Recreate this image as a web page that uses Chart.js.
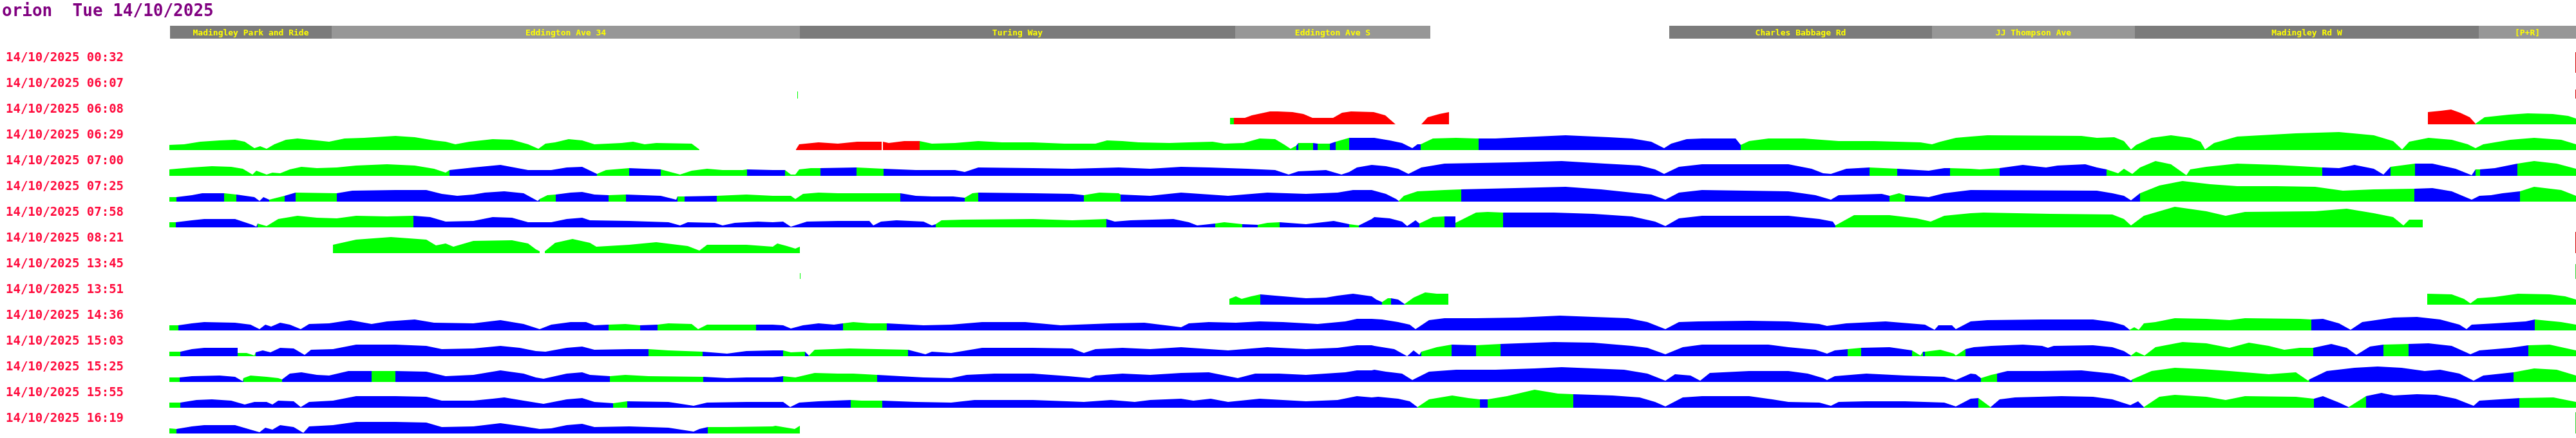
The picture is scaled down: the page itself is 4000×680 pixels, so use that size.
<!DOCTYPE html>
<html>
<head>
<meta charset="utf-8">
<title>orion Tue 14/10/2025</title>
<script src="https://cdn.jsdelivr.net/npm/chart.js@4.4.1/dist/chart.umd.min.js"></script>
<style>
  html, body { margin: 0; padding: 0; background: #ffffff; }
  canvas { display: block; }
</style>
</head>
<body>
<canvas id="runs" width="4000" height="680" style="width:4000px;height:680px"></canvas>
<script>
const pageTitle = 'orion  Tue 14/10/2025';

// timing points along the route
const stopNames = ['Madingley Park and Ride', 'Eddington Ave 34', 'Turing Way', 'Eddington Ave S',
  'Charles Babbage Rd', 'JJ Thompson Ave', 'Madingley Rd W', '[P+R]'];
const stopFrom = [264, 515, 1242, 1918, 2592, 3000, 3315, 3849];
const stopTo = [515, 1242, 1918, 2221, 3000, 3315, 3849, 4000];

const runLabels = ['14/10/2025 00:32', '14/10/2025 06:07', '14/10/2025 06:08', '14/10/2025 06:29',
  '14/10/2025 07:00', '14/10/2025 07:25', '14/10/2025 07:58', '14/10/2025 08:21',
  '14/10/2025 13:45', '14/10/2025 13:51', '14/10/2025 14:36', '14/10/2025 15:03',
  '14/10/2025 15:25', '14/10/2025 15:55', '14/10/2025 16:19'];

// each point: [distance, speed, band of the stretch that starts here]
const run0032 = [[3999,32,'R'],[4000,32,null]];

const run0607 = [[1238,11,'g'],[1239,11,null],[3999,14,'R'],[4000,14,null]];

const run0608 = [[1910,10,'g'],[1916,10,'r'],[1933,10,'r'],[1944,14,'r'],[1972,20,'r'],[1984,20,'r'],[2007,19,'r'],
  [2024,16,'r'],[2038,10,'r'],[2070,10,'r'],[2084,18,'r'],[2098,20,'r'],[2133,19,'r'],[2151,14,'r'],[2167,0,null],
  [2207,0,'r'],[2217,11,'r'],[2235,16,'r'],[2250,19,null],
  [3770,19,'r'],[3790,21,'r'],[3806,23,'r'],[3820,18,'r'],[3835,11,'r'],[3844,1,'g'],[3858,11,'g'],[3877,13,'g'],
  [3896,15,'g'],[3925,17,'g'],[3964,16,'g'],[3988,13,'g'],[4000,9,null]];

const run0629 = [[263,8,'g'],[286,9,'g'],[311,13,'g'],[341,15,'g'],[365,16,'g'],[380,13,'g'],[395,3,'g'],[404,6,'g'],
  [414,2,'g'],[426,9,'g'],[444,16,'g'],[462,18,'g'],[492,15,'g'],[511,13,'g'],[535,18,'g'],[565,19,'g'],[614,22,'g'],
  [644,20,'g'],[674,15,'g'],[692,13,'g'],[707,9,'g'],[729,13,'g'],[765,17,'g'],[795,16,'g'],[820,9,'g'],[836,2,'g'],
  [847,10,'g'],[862,12,'g'],[883,17,'g'],[904,15,'g'],[923,9,'g'],[965,11,'g'],[983,13,'g'],[1001,9,'g'],[1019,11,'g'],
  [1074,10,'g'],[1086,1,null],
  [1236,1,'r'],[1241,9,'r'],[1271,12,'r'],[1301,10,'r'],[1331,13,'r'],[1369,13,null],[1371,13,'r'],[1380,11,'r'],
  [1404,14,'r'],[1428,14,'g'],[1447,10,'g'],[1483,11,'g'],[1519,14,'g'],[1556,12,'g'],[1604,12,'g'],[1653,10,'g'],
  [1701,10,'g'],[1719,15,'g'],[1743,14,'g'],[1768,12,'g'],[1816,11,'g'],[1846,12,'g'],[1883,13,'g'],[1901,10,'g'],
  [1931,11,'g'],[1956,18,'g'],[1980,17,'g'],[1995,8,'g'],[2004,2,'g'],[2013,7,'b'],[2016,11,'g'],[2039,11,'b'],
  [2046,10,'g'],[2065,10,'b'],[2074,13,'g'],[2095,19,'b'],[2134,19,'b'],[2158,15,'b'],[2177,11,'b'],[2193,3,'b'],
  [2201,9,'b'],[2206,9,'g'],[2225,18,'g'],[2261,19,'g'],[2292,18,'g'],[2296,18,'b'],[2322,18,'b'],[2364,20,'b'],
  [2431,23,'b'],[2498,20,'b'],[2534,18,'b'],[2564,13,'b'],[2584,3,'b'],[2595,10,'b'],[2619,17,'b'],[2643,18,'b'],
  [2695,18,'b'],[2703,8,'g'],[2716,14,'g'],[2746,18,'g'],[2801,18,'g'],[2855,14,'g'],[2910,14,'g'],[2982,12,'g'],
  [3000,9,'g'],[3013,13,'g'],[3037,19,'g'],[3060,21,'g'],[3086,23,'g'],[3232,22,'g'],[3256,19,'g'],[3283,20,'g'],
  [3298,14,'g'],[3309,1,'g'],[3317,8,'g'],[3341,19,'g'],[3371,23,'g'],[3401,19,'g'],[3417,13,'g'],[3424,1,'g'],
  [3438,11,'g'],[3474,21,'g'],[3565,26,'g'],[3632,28,'g'],[3686,23,'g'],[3716,14,'g'],[3730,1,'g'],[3741,13,'g'],
  [3771,19,'g'],[3807,16,'g'],[3832,9,'g'],[3844,3,'g'],[3856,9,'g'],[3898,16,'g'],[3935,19,'g'],[3977,16,'g'],
  [4000,9,null]];

const run0700 = [[263,10,'g'],[274,11,'g'],[298,13,'g'],[329,15,'g'],[359,14,'g'],[377,11,'g'],[392,2,'g'],[398,8,'g'],
  [414,2,'g'],[423,5,'g'],[435,4,'g'],[450,10,'g'],[468,14,'g'],[492,12,'g'],[523,13,'g'],[553,16,'g'],[601,18,'g'],
  [644,16,'g'],[674,11,'g'],[692,5,'g'],[698,9,'b'],[735,13,'b'],[777,17,'b'],[820,9,'b'],[856,9,'b'],[880,13,'b'],
  [904,14,'b'],[927,3,'g'],[941,9,'g'],[977,12,'b'],[1026,10,'g'],[1056,2,'g'],[1065,5,'g'],[1074,8,'g'],[1098,11,'g'],
  [1122,9,'g'],[1153,9,'g'],[1160,10,'b'],[1200,9,'b'],[1219,9,'g'],[1228,2,'g'],[1235,2,'g'],[1241,10,'g'],
  [1259,12,'g'],[1274,12,'b'],[1330,13,'g'],[1372,11,'b'],[1422,9,'b'],[1483,9,'b'],[1498,6,'b'],[1519,13,'b'],
  [1604,12,'b'],[1665,11,'b'],[1737,13,'b'],[1786,11,'b'],[1834,14,'b'],[1877,13,'b'],[1937,11,'b'],[1980,9,'b'],
  [2001,2,'b'],[2016,7,'b'],[2059,9,'b'],[2083,2,'b'],[2095,6,'b'],[2107,13,'b'],[2130,17,'b'],[2152,15,'b'],
  [2171,11,'b'],[2187,3,'b'],[2207,13,'b'],[2243,19,'b'],[2352,21,'b'],[2425,23,'b'],[2492,19,'b'],[2546,16,'b'],
  [2570,10,'b'],[2584,3,'b'],[2607,14,'b'],[2643,18,'b'],[2777,18,'b'],[2813,11,'b'],[2831,4,'b'],[2843,3,'b'],
  [2867,11,'b'],[2903,13,'g'],[2946,11,'b'],[2995,8,'b'],[3019,12,'b'],[3028,12,'g'],[3060,11,'g'],[3074,10,'g'],
  [3105,12,'b'],[3141,17,'b'],[3177,13,'b'],[3195,16,'b'],[3238,18,'b'],[3256,13,'b'],[3271,10,'g'],[3289,4,'g'],
  [3298,11,'g'],[3311,3,'g'],[3323,13,'g'],[3347,23,'g'],[3371,18,'g'],[3395,1,'g'],[3401,10,'g'],[3426,14,'g'],
  [3474,19,'g'],[3535,17,'g'],[3606,13,'b'],[3632,12,'b'],[3656,17,'b'],[3686,11,'b'],[3701,2,'b'],[3712,14,'g'],
  [3750,19,'b'],[3777,19,'b'],[3813,11,'b'],[3838,1,'b'],[3844,10,'g'],[3851,10,'b'],[3874,12,'b'],[3909,19,'g'],
  [3935,23,'g'],[3970,19,'g'],[4000,11,null]];

const run0725 = [[263,7,'g'],[274,7,'b'],[298,10,'b'],[314,13,'b'],[348,13,'g'],[367,11,'b'],[395,7,'b'],[403,1,'b'],
  [409,7,'b'],[418,3,'g'],[442,9,'b'],[459,14,'g'],[523,13,'b'],[547,17,'b'],[614,18,'b'],[662,18,'b'],[686,12,'b'],
  [710,9,'b'],[735,11,'b'],[753,14,'b'],[783,16,'b'],[813,13,'b'],[835,1,'b'],[838,4,'g'],[850,10,'g'],[863,11,'b'],
  [886,14,'b'],[904,15,'b'],[923,11,'b'],[945,10,'g'],[972,11,'b'],[1026,9,'b'],[1050,3,'b'],[1052,8,'g'],
  [1063,8,'b'],[1113,9,'g'],[1159,11,'g'],[1200,9,'g'],[1228,9,'g'],[1235,4,'g'],[1247,12,'g'],[1271,14,'g'],
  [1301,13,'g'],[1331,13,'g'],[1362,13,'g'],[1398,13,'b'],[1422,9,'b'],[1447,8,'b'],[1480,8,'b'],[1489,7,'b'],
  [1498,6,'g'],[1510,13,'g'],[1519,14,'b'],[1604,13,'b'],[1665,12,'b'],[1683,10,'g'],[1707,14,'g'],[1737,13,'g'],
  [1740,11,'b'],[1786,9,'b'],[1834,14,'b'],[1907,9,'b'],[1968,14,'b'],[2028,12,'b'],[2077,14,'b'],[2101,18,'b'],
  [2130,18,'b'],[2152,12,'b'],[2168,4,'b'],[2172,1,'g'],[2180,9,'g'],[2201,16,'g'],[2243,18,'g'],[2269,19,'b'],
  [2352,21,'b'],[2431,23,'b'],[2486,19,'b'],[2534,14,'b'],[2564,11,'b'],[2586,3,'b'],[2607,14,'b'],[2643,18,'b'],
  [2777,16,'b'],[2819,10,'b'],[2843,3,'b'],[2855,10,'b'],[2922,12,'b'],[2934,9,'g'],[2949,13,'g'],[2958,10,'b'],
  [2995,7,'b'],[3019,13,'b'],[3060,18,'b'],[3256,17,'b'],[3280,13,'b'],[3298,9,'b'],[3309,2,'b'],[3323,13,'g'],
  [3353,25,'g'],[3389,32,'g'],[3432,27,'g'],[3474,24,'g'],[3535,24,'g'],[3595,23,'g'],[3638,17,'g'],[3686,19,'g'],
  [3749,20,'b'],[3777,21,'b'],[3807,16,'b'],[3838,3,'b'],[3850,9,'b'],[3868,10,'b'],[3886,13,'b'],[3913,16,'g'],
  [3935,23,'g'],[3977,18,'g'],[4000,9,null]];

const run0758 = [[263,8,'g'],[273,8,'b'],[298,11,'b'],[317,13,'b'],[365,13,'b'],[377,9,'b'],[392,4,'b'],[398,1,'b'],
  [400,6,'g'],[414,2,'g'],[432,13,'g'],[462,18,'g'],[492,15,'g'],[523,14,'g'],[553,18,'g'],[601,17,'g'],[642,18,'b'],
  [668,16,'b'],[692,9,'b'],[735,10,'b'],[765,16,'b'],[795,15,'b'],[820,8,'b'],[856,8,'b'],[880,13,'b'],[904,15,'b'],
  [916,11,'b'],[977,10,'b'],[1038,8,'b'],[1056,3,'b'],[1068,8,'b'],[1110,7,'b'],[1122,3,'b'],[1141,7,'b'],
  [1177,9,'b'],[1200,8,'b'],[1216,9,'b'],[1228,1,'b'],[1253,9,'b'],[1301,10,'b'],[1350,10,'b'],[1356,3,'b'],
  [1368,9,'b'],[1392,11,'b'],[1434,9,'b'],[1447,3,'b'],[1453,5,'g'],[1462,11,'g'],[1495,12,'g'],[1604,13,'g'],
  [1665,11,'g'],[1718,13,'b'],[1731,9,'b'],[1756,11,'b'],[1822,13,'b'],[1846,8,'b'],[1859,3,'b'],[1887,6,'g'],
  [1901,8,'g'],[1929,5,'b'],[1953,4,'g'],[1968,7,'g'],[1987,8,'b'],[2028,5,'b'],[2071,10,'b'],[2095,5,'g'],
  [2110,3,'b'],[2130,13,'b'],[2134,16,'b'],[2158,14,'b'],[2177,9,'b'],[2185,2,'b'],[2198,11,'b'],[2204,6,'g'],
  [2225,16,'g'],[2243,17,'b'],[2260,17,'g'],[2260,7,'g'],[2292,23,'g'],[2310,24,'g'],[2334,23,'b'],[2413,23,'b'],
  [2474,21,'b'],[2534,17,'b'],[2570,9,'b'],[2586,2,'b'],[2607,14,'b'],[2643,18,'b'],[2777,18,'b'],[2825,13,'b'],
  [2846,9,'b'],[2850,3,'g'],[2879,19,'g'],[2934,19,'g'],[2976,14,'g'],[2998,9,'g'],[3019,18,'g'],[3060,22,'g'],
  [3080,23,'g'],[3183,21,'g'],[3280,20,'g'],[3298,13,'g'],[3309,3,'g'],[3329,18,'g'],[3377,32,'g'],[3426,25,'g'],
  [3456,18,'g'],[3486,24,'g'],[3595,25,'g'],[3644,29,'g'],[3686,22,'g'],[3716,16,'g'],[3732,3,'g'],[3741,12,'g'],
  [3762,12,null]];

const run0821 = [[517,13,'g'],[553,21,'g'],[607,25,'g'],[662,21,'g'],[677,12,'g'],[692,15,'g'],[704,10,'g'],
  [735,19,'g'],[795,20,'g'],[820,15,'g'],[832,6,'g'],[838,3,null],[846,3,'g'],[862,16,'g'],[889,22,'g'],[916,16,'g'],
  [926,10,'g'],[977,13,'g'],[1019,17,'g'],[1068,11,'g'],[1086,4,'g'],[1098,13,'g'],[1159,13,'g'],[1200,10,'g'],
  [1207,15,'g'],[1222,11,'g'],[1235,7,'g'],[1242,10,null],[3999,33,'R'],[4000,33,null]];

const run1345 = [[1242,9,'g'],[1243,9,null],[3999,23,'G'],[4000,23,null]];

const run1351 = [[1909,9,'g'],[1919,13,'g'],[1928,9,'g'],[1943,13,'g'],[1957,16,'b'],[1980,14,'b'],[2028,10,'b'],
  [2059,11,'b'],[2077,14,'b'],[2101,17,'b'],[2130,13,'b'],[2137,8,'b'],[2146,4,'g'],[2155,10,'g'],[2160,10,'b'],
  [2171,8,'b'],[2181,1,'g'],[2195,11,'g'],[2213,19,'g'],[2231,17,'g'],[2249,17,null],
  [3769,17,'g'],[3807,16,'g'],[3826,9,'g'],[3836,2,'g'],[3847,10,'g'],[3874,12,'g'],[3910,17,'g'],[3959,16,'g'],
  [3983,13,'g'],[4000,8,null]];

const run1436 = [[263,8,'g'],[277,8,'b'],[298,11,'b'],[317,13,'b'],[365,12,'b'],[389,9,'b'],[403,2,'b'],[412,9,'b'],
  [421,6,'b'],[435,12,'b'],[450,9,'b'],[467,2,'b'],[480,10,'b'],[511,11,'b'],[544,16,'b'],[577,10,'b'],[601,14,'b'],
  [644,17,'b'],[674,12,'b'],[735,11,'b'],[777,16,'b'],[813,10,'b'],[838,2,'b'],[856,9,'b'],[886,13,'b'],[910,13,'b'],
  [923,8,'b'],[945,9,'g'],[971,10,'g'],[994,8,'b'],[1021,9,'g'],[1038,11,'g'],[1074,10,'g'],[1084,2,'g'],[1098,9,'g'],
  [1147,9,'g'],[1174,9,'b'],[1200,9,'b'],[1216,8,'b'],[1228,3,'b'],[1247,8,'b'],[1271,11,'b'],[1295,9,'b'],
  [1309,11,'g'],[1325,13,'g'],[1350,11,'g'],[1377,11,'b'],[1434,8,'b'],[1477,9,'b'],[1525,13,'b'],[1592,13,'b'],
  [1647,8,'b'],[1725,11,'b'],[1777,12,'b'],[1834,5,'b'],[1846,11,'b'],[1877,13,'b'],[1919,12,'b'],[1956,14,'b'],
  [1992,13,'b'],[2046,10,'b'],[2089,14,'b'],[2107,18,'b'],[2130,18,'b'],[2146,17,'b'],[2171,13,'b'],[2189,9,'b'],
  [2198,2,'b'],[2219,16,'b'],[2243,19,'b'],[2292,19,'b'],[2358,20,'b'],[2422,23,'b'],[2474,21,'b'],[2528,19,'b'],
  [2558,13,'b'],[2586,2,'b'],[2607,13,'b'],[2637,14,'b'],[2716,15,'b'],[2777,14,'b'],[2825,10,'b'],[2837,7,'b'],
  [2867,11,'b'],[2928,14,'b'],[2989,9,'b'],[3004,1,'b'],[3010,8,'b'],[3031,8,'b'],[3037,2,'b'],[3060,14,'b'],
  [3086,16,'b'],[3171,17,'b'],[3250,17,'b'],[3280,13,'b'],[3298,8,'b'],[3307,1,'g'],[3314,5,'g'],[3321,1,'g'],
  [3329,11,'g'],[3347,13,'g'],[3377,19,'g'],[3426,18,'g'],[3462,16,'g'],[3486,19,'g'],[3571,18,'g'],[3589,17,'b'],
  [3607,18,'b'],[3632,11,'b'],[3650,1,'b'],[3668,13,'b'],[3717,20,'b'],[3753,21,'b'],[3789,17,'b'],[3819,9,'b'],
  [3830,2,'b'],[3838,9,'b'],[3874,11,'b'],[3922,14,'b'],[3936,17,'g'],[3977,13,'g'],[4000,9,null]];

const run1503 = [[263,7,'g'],[280,7,'b'],[298,11,'b'],[317,13,'b'],[347,13,'b'],[369,13,'g'],[369,5,'g'],[383,5,'g'],
  [395,1,'g'],[397,6,'b'],[408,9,'b'],[420,6,'b'],[435,13,'b'],[456,12,'b'],[473,2,'b'],[483,10,'b'],[517,11,'b'],
  [553,18,'b'],[614,18,'b'],[662,16,'b'],[686,11,'b'],[735,12,'b'],[777,16,'b'],[807,13,'b'],[832,8,'b'],[847,7,'b'],
  [880,13,'b'],[904,15,'b'],[923,10,'b'],[977,11,'b'],[1007,11,'g'],[1038,9,'g'],[1091,7,'b'],[1129,4,'b'],
  [1159,8,'b'],[1200,9,'b'],[1216,9,'g'],[1228,6,'g'],[1250,7,'b'],[1256,1,'g'],[1265,10,'g'],[1319,12,'g'],
  [1362,11,'g'],[1410,10,'b'],[1437,3,'b'],[1447,7,'b'],[1477,5,'b'],[1525,13,'b'],[1604,13,'b'],[1665,12,'b'],
  [1683,5,'b'],[1701,11,'b'],[1743,13,'b'],[1786,11,'b'],[1834,14,'b'],[1907,9,'b'],[1968,14,'b'],[2028,11,'b'],
  [2077,13,'b'],[2107,17,'b'],[2130,17,'b'],[2134,16,'b'],[2165,11,'b'],[2185,0,'b'],[2195,9,'b'],[2204,2,'b'],
  [2207,7,'g'],[2231,14,'g'],[2254,18,'b'],[2292,17,'g'],[2330,19,'b'],[2413,22,'b'],[2474,21,'b'],[2534,16,'b'],
  [2558,13,'b'],[2586,3,'b'],[2613,14,'b'],[2643,18,'b'],[2746,18,'b'],[2777,14,'b'],[2819,10,'b'],[2837,4,'b'],
  [2849,9,'b'],[2869,11,'g'],[2890,13,'b'],[2934,14,'b'],[2969,9,'g'],[2982,1,'g'],[2986,7,'b'],[2989,7,'g'],
  [3013,10,'g'],[3034,4,'g'],[3037,1,'g'],[3049,9,'g'],[3052,11,'b'],[3065,14,'b'],[3092,16,'b'],[3141,18,'b'],
  [3171,16,'b'],[3180,13,'b'],[3189,16,'b'],[3250,17,'b'],[3280,14,'b'],[3298,8,'b'],[3309,1,'g'],[3317,7,'g'],
  [3330,1,'g'],[3347,14,'g'],[3389,22,'g'],[3426,20,'g'],[3462,13,'g'],[3492,21,'g'],[3523,16,'g'],[3547,10,'g'],
  [3571,13,'g'],[3592,13,'b'],[3620,19,'b'],[3644,13,'b'],[3659,2,'b'],[3680,15,'b'],[3701,18,'g'],[3740,19,'b'],
  [3771,20,'b'],[3807,16,'b'],[3836,3,'b'],[3850,9,'b'],[3898,13,'b'],[3926,17,'g'],[3959,18,'g'],[4000,9,null]];

const run1525 = [[263,7,'g'],[279,7,'b'],[298,9,'b'],[341,10,'b'],[365,8,'b'],[377,1,'b'],[378,6,'g'],[389,10,'g'],
  [414,8,'g'],[432,6,'g'],[438,4,'b'],[450,13,'b'],[468,15,'b'],[492,11,'b'],[511,10,'b'],[541,17,'b'],[577,17,'g'],
  [614,17,'b'],[662,16,'b'],[692,9,'b'],[735,11,'b'],[777,18,'b'],[813,13,'b'],[832,7,'b'],[844,5,'b'],[880,13,'b'],
  [904,15,'b'],[916,11,'b'],[947,9,'g'],[971,11,'g'],[1007,9,'g'],[1092,8,'b'],[1129,6,'b'],[1159,7,'b'],
  [1200,7,'b'],[1216,9,'g'],[1235,7,'g'],[1265,14,'g'],[1301,13,'g'],[1325,13,'g'],[1362,11,'b'],[1434,7,'b'],
  [1477,6,'b'],[1501,11,'b'],[1544,13,'b'],[1604,13,'b'],[1659,9,'b'],[1692,6,'b'],[1701,10,'b'],[1743,13,'b'],
  [1786,11,'b'],[1834,14,'b'],[1877,15,'b'],[1922,6,'b'],[1949,13,'b'],[1986,13,'b'],[2028,11,'b'],[2089,15,'b'],
  [2107,18,'b'],[2130,18,'b'],[2134,19,'b'],[2152,16,'b'],[2177,13,'b'],[2193,3,'b'],[2219,16,'b'],[2261,19,'b'],
  [2322,19,'b'],[2383,21,'b'],[2425,23,'b'],[2474,21,'b'],[2522,19,'b'],[2558,13,'b'],[2586,2,'b'],[2601,12,'b'],
  [2625,10,'b'],[2640,2,'b'],[2655,14,'b'],[2716,17,'b'],[2777,17,'b'],[2807,13,'b'],[2831,6,'b'],[2837,3,'b'],
  [2849,9,'b'],[2898,13,'b'],[2958,10,'b'],[3019,8,'b'],[3037,3,'b'],[3060,13,'b'],[3068,12,'b'],[3076,6,'g'],
  [3092,11,'g'],[3101,13,'b'],[3117,17,'b'],[3171,17,'b'],[3232,18,'b'],[3280,13,'b'],[3298,8,'b'],[3309,2,'b'],
  [3311,4,'g'],[3341,17,'g'],[3377,22,'g'],[3420,20,'g'],[3462,17,'g'],[3523,12,'g'],[3565,15,'g'],[3584,2,'g'],
  [3586,4,'b'],[3613,17,'b'],[3656,22,'b'],[3692,24,'b'],[3729,22,'b'],[3765,17,'b'],[3789,19,'b'],[3819,13,'b'],
  [3841,2,'b'],[3856,10,'b'],[3903,15,'g'],[3935,21,'g'],[3970,19,'g'],[4000,10,null]];

const run1555 = [[263,8,'g'],[280,8,'b'],[305,12,'b'],[329,13,'b'],[359,11,'b'],[380,5,'b'],[395,9,'b'],[414,9,'b'],
  [423,5,'b'],[432,11,'b'],[456,10,'b'],[467,1,'b'],[480,9,'b'],[517,11,'b'],[553,18,'b'],[614,18,'b'],[662,17,'b'],
  [686,11,'b'],[735,11,'b'],[765,14,'b'],[783,16,'b'],[813,11,'b'],[844,6,'b'],[880,13,'b'],[904,15,'b'],[923,9,'b'],
  [952,7,'g'],[974,10,'b'],[1038,9,'b'],[1077,3,'b'],[1098,8,'b'],[1159,9,'b'],[1200,9,'b'],[1216,9,'b'],
  [1227,1,'b'],[1241,8,'b'],[1271,10,'b'],[1321,12,'g'],[1338,11,'g'],[1370,11,'b'],[1422,9,'b'],[1477,8,'b'],
  [1513,12,'b'],[1604,12,'b'],[1683,9,'b'],[1725,12,'b'],[1762,9,'b'],[1786,12,'b'],[1834,14,'b'],[1853,11,'b'],
  [1880,14,'b'],[1907,9,'b'],[1956,14,'b'],[2028,10,'b'],[2077,12,'b'],[2107,18,'b'],[2130,16,'b'],[2140,17,'b'],
  [2171,14,'b'],[2189,10,'b'],[2201,1,'g'],[2219,13,'g'],[2255,19,'g'],[2280,15,'g'],[2298,13,'b'],[2310,13,'g'],
  [2340,18,'g'],[2383,28,'g'],[2419,22,'g'],[2443,21,'b'],[2504,19,'b'],[2546,16,'b'],[2570,9,'b'],[2586,2,'b'],
  [2613,16,'b'],[2643,18,'b'],[2716,18,'b'],[2752,13,'b'],[2777,9,'b'],[2825,8,'b'],[2843,3,'b'],[2855,9,'b'],
  [2898,10,'b'],[2958,10,'b'],[3019,8,'b'],[3037,2,'b'],[3060,14,'b'],[3072,15,'g'],[3091,1,'b'],[3105,13,'b'],
  [3129,16,'b'],[3201,18,'b'],[3250,17,'b'],[3280,13,'b'],[3308,4,'b'],[3320,10,'b'],[3329,1,'g'],[3353,17,'g'],
  [3377,20,'g'],[3426,17,'g'],[3456,12,'g'],[3486,18,'g'],[3565,17,'g'],[3593,14,'b'],[3607,18,'b'],[3632,8,'b'],
  [3647,1,'g'],[3674,18,'b'],[3698,23,'b'],[3717,19,'b'],[3753,21,'b'],[3783,20,'b'],[3813,14,'b'],[3841,3,'b'],
  [3850,11,'b'],[3912,15,'g'],[3965,16,'g'],[4000,9,null]];

const run1619 = [[263,8,'g'],[274,7,'b'],[298,11,'b'],[317,13,'b'],[365,13,'b'],[389,6,'b'],[403,2,'b'],[412,9,'b'],
  [423,6,'b'],[435,13,'b'],[456,10,'b'],[471,1,'b'],[480,11,'b'],[517,13,'b'],[553,18,'b'],[614,18,'b'],[662,17,'b'],
  [686,10,'b'],[735,11,'b'],[777,16,'b'],[813,11,'b'],[838,7,'b'],[856,8,'b'],[880,13,'b'],[904,15,'b'],[923,10,'b'],
  [977,11,'b'],[1038,9,'b'],[1077,3,'b'],[1086,7,'b'],[1099,10,'g'],[1129,10,'g'],[1200,11,'g'],[1204,12,'g'],
  [1222,9,'g'],[1234,7,'g'],[1242,12,null],[3999,33,'G'],[4000,33,null]];

const runs = [run0032, run0607, run0608, run0629, run0700, run0725, run0758, run0821,
  run1345, run1351, run1436, run1503, run1525, run1555, run1619];

const bandColours = { g: '#00ff00', b: '#0000ff', r: '#ff0000', R: '#d40000', G: '#30d030' };

const ROW_FIRST_BASE = 113;
const ROW_STEP = 40;
const baseOf = i => ROW_FIRST_BASE + ROW_STEP * i;

// one filled line dataset per coloured stretch of each run
const datasets = [];
runs.forEach((pts, i) => {
  const base = baseOf(i);
  let cur = null;
  for (let k = 0; k < pts.length - 1; k++) {
    const band = pts[k][2];
    if (!band) { cur = null; continue; }
    const next = { x: pts[k + 1][0], y: base - pts[k + 1][1] };
    if (cur && cur.band === band) {
      cur.data.push(next);
    } else {
      cur = { band, data: [{ x: pts[k][0], y: base - pts[k][1] }, next] };
      datasets.push({
        data: cur.data,
        backgroundColor: bandColours[band],
        borderWidth: 0,
        pointRadius: 0,
        fill: { value: base },
        tension: 0
      });
    }
  }
});

const textLayer = {
  id: 'textLayer',
  beforeDatasetsDraw(chart) {
    const { ctx, scales: { x } } = chart;
    ctx.save();
    ctx.fillStyle = '#800080';
    ctx.font = 'bold 26px "DejaVu Sans Mono", monospace';
    ctx.textBaseline = 'alphabetic';
    ctx.textAlign = 'left';
    ctx.fillText(pageTitle, 3, 25);

    // stop header
    stopNames.forEach((name, i) => {
      const x0 = x.getPixelForValue(stopFrom[i]);
      const x1 = x.getPixelForValue(stopTo[i]);
      ctx.fillStyle = i % 2 === 0 ? '#7b7b7b' : '#979797';
      ctx.fillRect(x0, 40, x1 - x0, 20);
      ctx.fillStyle = '#ffff00';
      ctx.font = 'bold 13px "DejaVu Sans Mono", monospace';
      ctx.textAlign = 'center';
      ctx.fillText(name, (x0 + x1) / 2, 55);
    });

    ctx.fillStyle = '#ff0a3c';
    ctx.font = 'bold 19px "DejaVu Sans Mono", monospace';
    ctx.textAlign = 'left';
    runLabels.forEach((label, i) => {
      ctx.fillText(label, 9, baseOf(i) - 18);
    });
    ctx.restore();
  }
};

new Chart(document.getElementById('runs'), {
  type: 'line',
  data: { datasets },
  options: {
    responsive: false,
    animation: false,
    devicePixelRatio: 1,
    layout: { padding: 0 },
    events: [],
    plugins: { legend: { display: false }, tooltip: { enabled: false } },
    scales: {
      x: { type: 'linear', min: 0, max: 4000, display: false },
      y: { type: 'linear', min: 0, max: 680, reverse: true, display: false }
    }
  },
  plugins: [textLayer]
});
</script>
</body>
</html>
